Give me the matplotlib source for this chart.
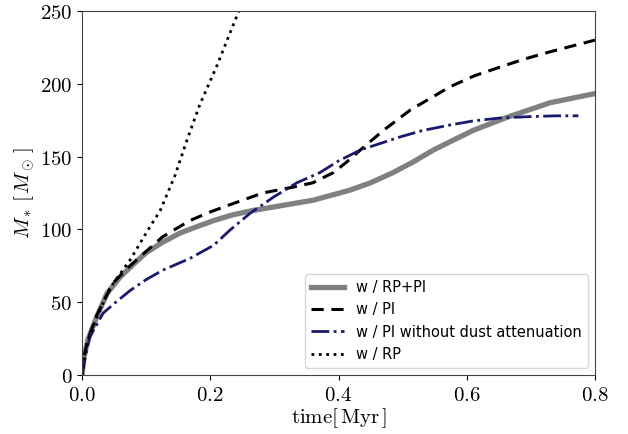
import numpy as np
import matplotlib.pyplot as plt

plt.rcParams['mathtext.fontset'] = 'cm'

# values
t_rppi = [0, 0.003, 0.009, 0.023, 0.039, 0.059, 0.08, 0.1, 0.125, 0.153, 0.18, 0.205, 0.235, 0.267,
          0.32, 0.36, 0.402, 0.418, 0.45, 0.485, 0.515, 0.548, 0.58, 0.61, 0.663, 0.73, 0.797, 0.8]
m_rppi = [0, 12, 24, 40, 56, 67, 76, 84, 91, 97.5, 102, 106, 110, 113,
          117, 120, 125, 127, 132, 139, 146, 154.5, 161.5, 168, 177, 187, 193, 193.3]

t_pi = [0, 0.003, 0.009, 0.023, 0.048, 0.07, 0.09, 0.126, 0.168, 0.2, 0.231, 0.282, 0.329, 0.36,
        0.392, 0.412, 0.434, 0.47, 0.512, 0.574, 0.612, 0.652, 0.69, 0.73, 0.765, 0.8]
m_pi = [0, 12, 24, 41, 63, 73, 81, 95, 106, 112, 117, 125, 129, 132,
        139, 146, 154.5, 168, 182, 198, 205.5, 211.5, 217, 222, 226, 230]

t_nodust = [0, 0.005, 0.012, 0.033, 0.05, 0.075, 0.1, 0.126, 0.168, 0.205, 0.231, 0.262, 0.298,
            0.335, 0.371, 0.4, 0.434, 0.496, 0.53, 0.574, 0.61, 0.652, 0.7, 0.74, 0.774]
m_nodust = [0, 12, 26, 42.5, 49, 58, 65.5, 72, 80, 89, 99.6, 111, 122,
            132, 139, 147, 154.5, 163.5, 167.8, 171.7, 174.5, 176.5, 177.5, 178, 178]

t_rp = [0, 0.003, 0.009, 0.023, 0.044, 0.075, 0.1, 0.122, 0.145, 0.165, 0.184, 0.21, 0.23, 0.25]
m_rp = [0, 12, 24, 40, 60, 79, 97.5, 113, 137, 163, 186, 212, 234, 256]

fig = plt.figure(figsize=(6.28, 4.34), dpi=100)
ax = fig.add_axes([0.1306, 0.136, 0.8169, 0.8387])

ax.plot(t_rppi, m_rppi, color='gray', lw=3.8, label='w / RP+PI')
ax.plot(t_pi, m_pi, color='black', lw=2.2, ls=(0, (4, 2.5)), label='w / PI')
ax.plot(t_nodust, m_nodust, color='midnightblue', lw=2, ls='-.', label='w / PI without dust attenuation')
ax.plot(t_rp, m_rp, color='black', lw=2, ls=':', label='w / RP')

ax.set_xlim(0, 0.8)
ax.set_ylim(0, 250)
ax.set_xticks([0, 0.2, 0.4, 0.6, 0.8])
ax.set_xticklabels([r'$0.0$', r'$0.2$', r'$0.4$', r'$0.6$', r'$0.8$'])
ax.set_yticks([0, 50, 100, 150, 200, 250])
ax.set_yticklabels([r'$0$', r'$50$', r'$100$', r'$150$', r'$200$', r'$250$'])
ax.tick_params(labelsize=15)
ax.set_xlabel(r'$\mathrm{time[\,Myr\,]}$', fontsize=15, labelpad=1)
ax.set_ylabel(r'$M_*\,[\,M_\odot\,]$', fontsize=15, labelpad=2)
for s in ax.spines.values():
    s.set_color('#444444')

ax.legend(loc='lower right', fontsize=10.5, handlelength=2.3)

fig.savefig('out.png', dpi=100)
